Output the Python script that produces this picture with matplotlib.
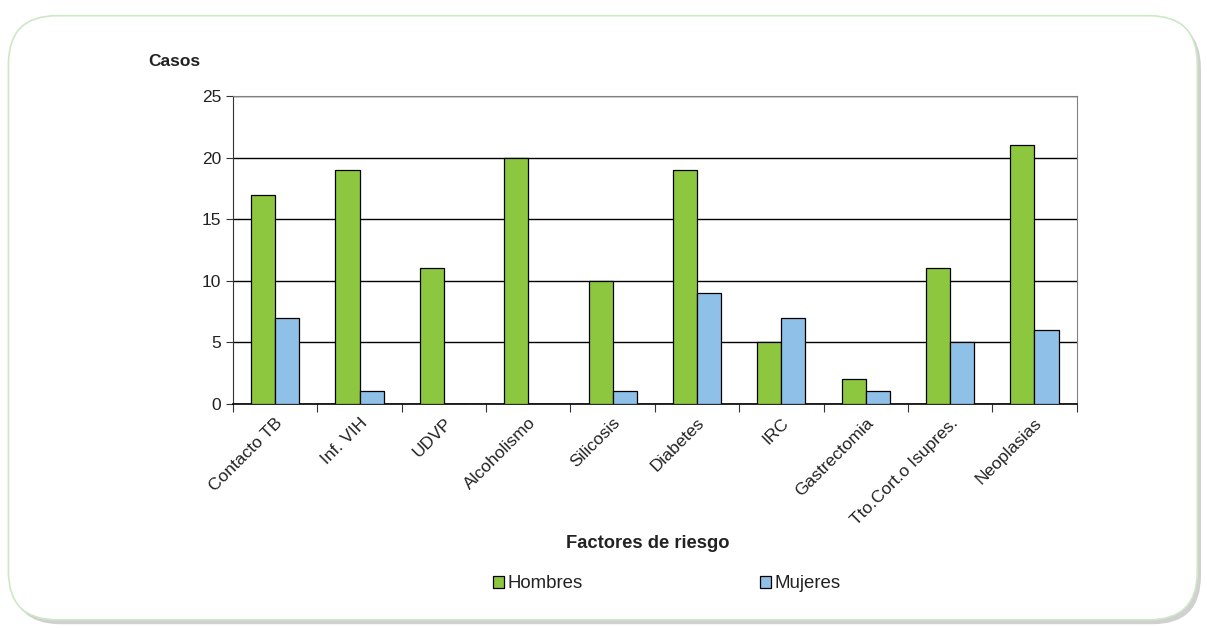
import matplotlib.pyplot as plt
import numpy as np
from matplotlib.patches import FancyBboxPatch, Patch

plt.rcParams['font.family'] = ['Liberation Sans', 'DejaVu Sans']

categorias = ['Contacto TB', 'Inf. VIH', 'UDVP', 'Alcoholismo', 'Silicosis',
              'Diabetes', 'IRC', 'Gastrectomia', 'Tto.Cort.o Isupres.', 'Neoplasias']
hombres = [17, 19, 11, 20, 10, 19, 5, 2, 11, 21]
mujeres = [7, 1, 0, 0, 1, 9, 7, 1, 5, 6]

verde = '#8dc63f'
azul = '#8fc0e7'

fig = plt.figure(figsize=(12.07, 6.28), dpi=100)

# marco redondeado con sombra
sombra = FancyBboxPatch((0.010, 0.006), 0.985, 0.962, boxstyle='round,pad=0,rounding_size=0.04',
                        transform=fig.transFigure, facecolor='#d0d0d0', edgecolor='none',
                        mutation_aspect=1207 / 628, zorder=-2)
marco = FancyBboxPatch((0.007, 0.013), 0.985, 0.962, boxstyle='round,pad=0,rounding_size=0.04',
                       transform=fig.transFigure, facecolor='white', edgecolor='#cde8c4',
                       linewidth=1.2, mutation_aspect=1207 / 628, zorder=-1)
fig.patches.extend([sombra, marco])

ax = fig.add_axes([0.193, 0.357, 0.699, 0.490], zorder=2)
ax.set_facecolor('none')

x = np.arange(len(categorias))
w = 0.285
ax.bar(x - w / 2, hombres, w, color=verde, edgecolor='black', linewidth=0.9, zorder=3)
ax.bar(x + w / 2, mujeres, w, color=azul, edgecolor='black', linewidth=0.9, zorder=3)

ax.set_xlim(-0.5, len(categorias) - 0.5)
ax.set_ylim(0, 25)
ax.set_yticks([0, 5, 10, 15, 20, 25])
ax.tick_params(axis='y', labelsize=12.5, length=5, direction='out', colors='#333333',
               labelcolor='#222222')
ax.yaxis.grid(True, color='black', linewidth=1.0, zorder=1)

ax.set_xticks(np.arange(-0.5, len(categorias), 1.0))
ax.set_xticklabels([])
ax.set_xticks(x, minor=True)
ax.set_xticklabels(categorias, minor=True, rotation=45, ha='right', va='top',
                   rotation_mode='anchor', fontsize=12.5, color='#222222')
ax.tick_params(axis='x', which='major', length=6, direction='out', color='#333333')
ax.tick_params(axis='x', which='minor', length=0, pad=8)

for s in ['top', 'right']:
    ax.spines[s].set_color('#808080')
ax.spines['left'].set_color('#333333')
ax.spines['bottom'].set_color('black')
ax.spines['bottom'].set_linewidth(1.2)

fig.text(148 / 1207, 1 - 62 / 628, 'Casos', fontsize=12.5, fontweight='bold',
         color='#222222', va='center')
fig.text(648 / 1207, 1 - 543 / 628, 'Factores de riesgo', fontsize=13.2, fontweight='bold',
         color='#222222', ha='center', va='center')

h1 = Patch(facecolor=verde, edgecolor='black', linewidth=0.9, label='Hombres')
h2 = Patch(facecolor=azul, edgecolor='black', linewidth=0.9, label='Mujeres')
fig.legend(handles=[h1, h2], loc='center', bbox_to_anchor=(667 / 1207, 1 - 584 / 628),
           ncol=2, frameon=False, fontsize=13.4, handlelength=0.6, handleheight=0.6,
           handletextpad=0.2, columnspacing=9.5, labelcolor='#222222')

fig.savefig('out.png', dpi=100)
